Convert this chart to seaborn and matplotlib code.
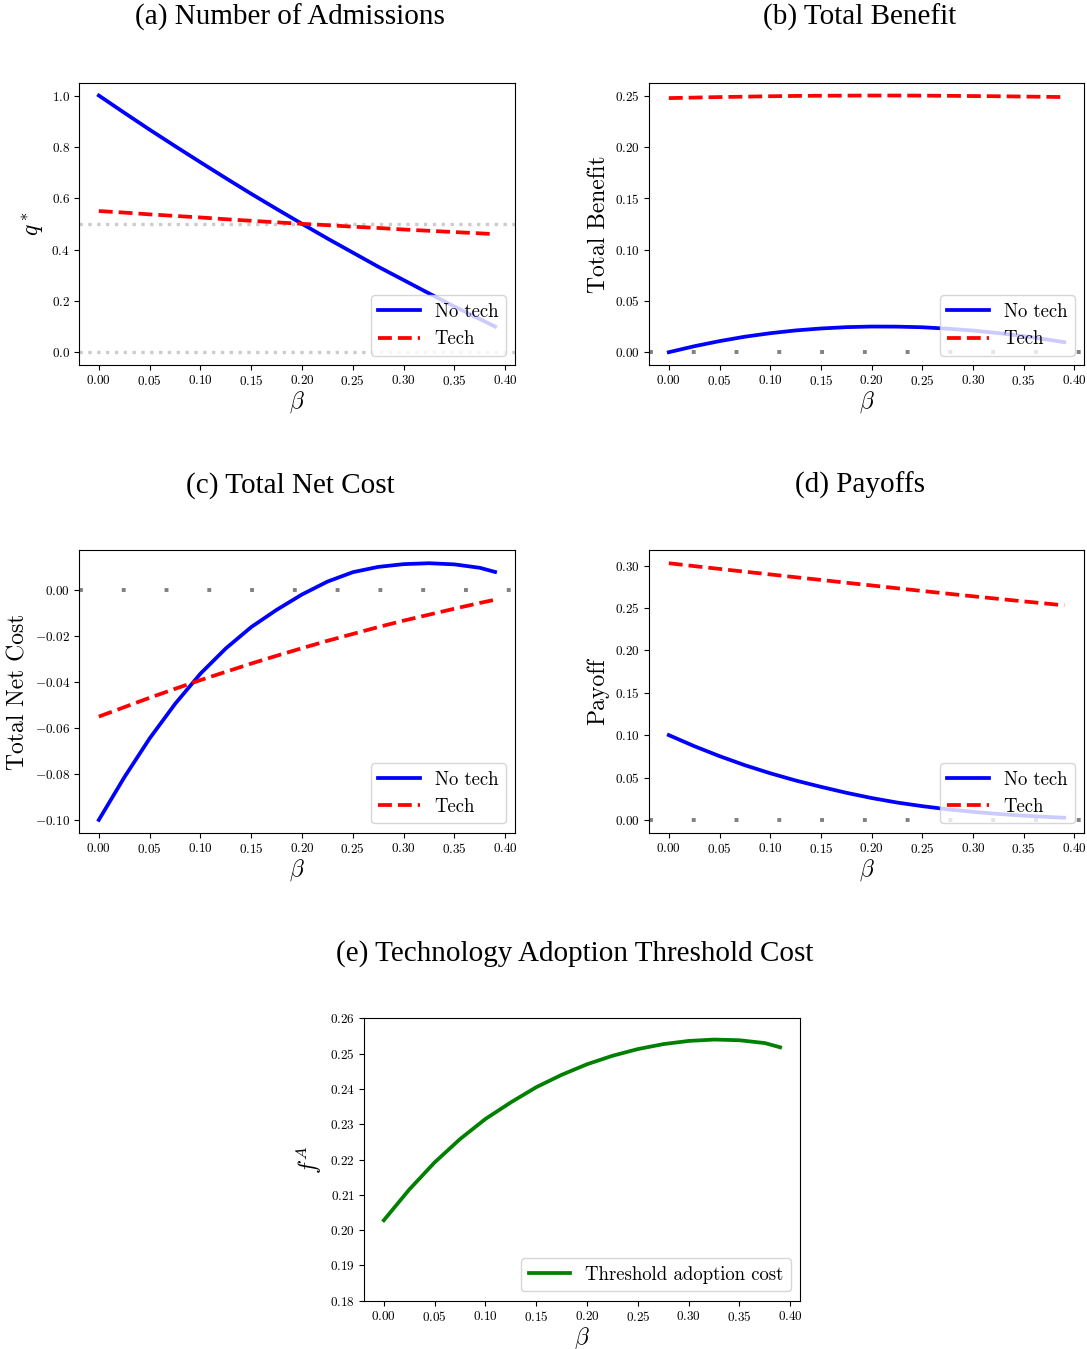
import matplotlib
matplotlib.use('Agg')
import matplotlib.pyplot as plt
from matplotlib.ticker import MultipleLocator
import seaborn as sns

# Computer Modern para ejes, etiquetas y leyendas
plt.rcParams['font.family'] = 'serif'
plt.rcParams['font.serif'] = ['cmr10']
plt.rcParams['mathtext.fontset'] = 'cm'
plt.rcParams['axes.formatter.use_mathtext'] = True
plt.rcParams['axes.unicode_minus'] = True

# Datos
beta = [0.0, 0.025, 0.05, 0.075, 0.1, 0.125, 0.15, 0.175, 0.2, 0.225,
        0.25, 0.275, 0.3, 0.325, 0.35, 0.375, 0.39]

q_no_tech = [1.000, 0.933, 0.867, 0.803, 0.740, 0.678, 0.617, 0.558, 0.500,
             0.443, 0.388, 0.333, 0.281, 0.229, 0.178, 0.129, 0.100]
q_tech = [0.550, 0.544, 0.537, 0.531, 0.525, 0.518, 0.512, 0.506, 0.500,
          0.495, 0.489, 0.484, 0.478, 0.473, 0.468, 0.463, 0.460]

benefit_no_tech = [0.0000, 0.0058, 0.0108, 0.0151, 0.0185, 0.0212, 0.0231, 0.0244, 0.0250,
                   0.0249, 0.0243, 0.0229, 0.0211, 0.0186, 0.0156, 0.0121, 0.0098]
benefit_tech = [0.2475, 0.2480, 0.2485, 0.2489, 0.2493, 0.2496, 0.2498, 0.2499, 0.2500,
                0.2500, 0.2499, 0.2497, 0.2495, 0.2493, 0.2490, 0.2487, 0.2485]

cost_no_tech = [-0.1000, -0.0815, -0.0645, -0.0495, -0.0363, -0.0253, -0.0160, -0.0085, -0.0018,
                0.0038, 0.0079, 0.0102, 0.0114, 0.0118, 0.0113, 0.0098, 0.0080]
cost_tech = [-0.0550, -0.0509, -0.0468, -0.0429, -0.0391, -0.0355, -0.0319, -0.0285, -0.0252,
             -0.0220, -0.0190, -0.0160, -0.0132, -0.0106, -0.0080, -0.0055, -0.0041]

payoff_no_tech = [0.1000, 0.0870, 0.0752, 0.0645, 0.0550, 0.0465, 0.0390, 0.0320, 0.0258,
                  0.0205, 0.0162, 0.0125, 0.0095, 0.0070, 0.0050, 0.0034, 0.0026]
payoff_tech = [0.3027, 0.2993, 0.2960, 0.2927, 0.2895, 0.2862, 0.2830, 0.2797, 0.2765,
               0.2732, 0.2700, 0.2668, 0.2637, 0.2607, 0.2577, 0.2548, 0.2530]

threshold = [0.2028, 0.2115, 0.2192, 0.2258, 0.2315, 0.2362, 0.2405, 0.2440, 0.2470,
             0.2494, 0.2513, 0.2527, 0.2536, 0.2540, 0.2538, 0.2530, 0.2518]

titles = ['(a) Number of Admissions', '(b) Total Benefit', '(c) Total Net Cost',
          '(d) Payoffs', '(e) Technology Adoption Threshold Cost']

LW = 2.7
TICK_FS = 9.5
LABEL_FS = 17
LEG_FS = 13.5
TITLE_FS = 21

fig = plt.figure(figsize=(10.87, 13.49), dpi=100)

W, H = 0.401, 0.2093
ax_a = fig.add_axes([0.0727, 0.7294, W, H])
ax_b = fig.add_axes([0.5971, 0.7294, 0.4002, H])
ax_c = fig.add_axes([0.0727, 0.3827, W, H])
ax_d = fig.add_axes([0.5971, 0.3827, 0.4002, H])
ax_e = fig.add_axes([0.3349, 0.0358, W, H])


def two_lines(ax, y_no, y_tech):
    sns.lineplot(x=beta, y=y_no, ax=ax, color='blue', linewidth=LW, label='No tech')
    sns.lineplot(x=beta, y=y_tech, ax=ax, color='red', linestyle='--', linewidth=LW, label='Tech')


def zero_line(ax):
    ax.axhline(0.0, color='gray', linestyle=(0, (1, 10)), linewidth=2.8)


def finish(ax, ylabel, ystep):
    ax.set_xlabel(r'$\beta$', fontsize=LABEL_FS, labelpad=1)
    ax.set_ylabel(ylabel, fontsize=LABEL_FS)
    ax.xaxis.set_major_locator(MultipleLocator(0.05))
    ax.yaxis.set_major_locator(MultipleLocator(ystep))
    ax.tick_params(labelsize=TICK_FS, pad=3)
    ax.legend(loc='lower right', fontsize=LEG_FS, handlelength=2.2)


# (a) Numero de admisiones
ax_a.axhline(0.5, color='#cccccc', linestyle=':', linewidth=2.4)
ax_a.axhline(0.0, color='#cccccc', linestyle=':', linewidth=2.4)
two_lines(ax_a, q_no_tech, q_tech)
finish(ax_a, r'$q^*$', 0.2)

# (b) Beneficio total
zero_line(ax_b)
two_lines(ax_b, benefit_no_tech, benefit_tech)
finish(ax_b, 'Total Benefit', 0.05)

# (c) Costo neto total
zero_line(ax_c)
two_lines(ax_c, cost_no_tech, cost_tech)
finish(ax_c, 'Total Net Cost', 0.02)

# (d) Pagos
zero_line(ax_d)
two_lines(ax_d, payoff_no_tech, payoff_tech)
finish(ax_d, 'Payoff', 0.05)

# (e) Costo umbral de adopcion
sns.lineplot(x=beta, y=threshold, ax=ax_e, color='green', linewidth=LW,
             label='Threshold adoption cost')
ax_e.set_ylim(0.18, 0.26)
finish(ax_e, r'$f^A$', 0.01)

# Titulos de cada subfigura
title_pos = [(290, 25), (860, 25), (290, 493), (860, 493), (575, 961)]
for t, (px, py) in zip(titles, title_pos):
    fig.text(px / 1087, 1 - py / 1349, t, ha='center', va='baseline',
             fontsize=TITLE_FS, family='Liberation Serif')

fig.savefig('out.png', dpi=100)
plt.close(fig)
